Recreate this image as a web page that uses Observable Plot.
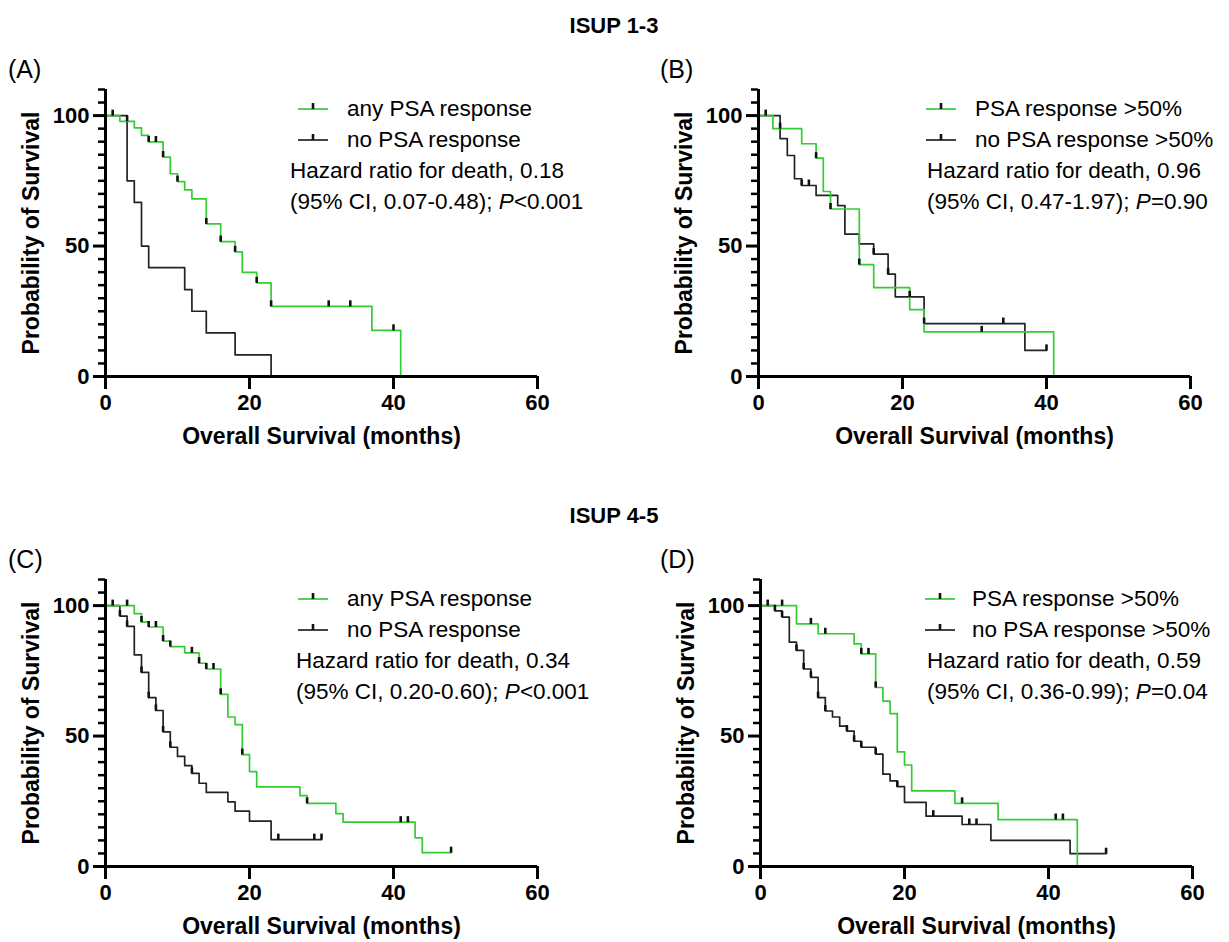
<!DOCTYPE html>
<html><head><meta charset="utf-8">
<script src="https://cdn.jsdelivr.net/npm/d3@7"></script>
<script src="https://cdn.jsdelivr.net/npm/@observablehq/plot@0.6"></script>
<style>
body{margin:0;background:#fff;}
#fig{position:relative;width:1229px;height:942px;overflow:hidden;font-family:"Liberation Sans",Arial,sans-serif;}
#fig svg{position:absolute;overflow:visible;}
</style></head><body><div id="fig"></div>
<script>
// ---------- data (months, survival %) ----------
const titles = ["ISUP 1-3", "ISUP 4-5"];
const panelLabels = ["(A)", "(B)", "(C)", "(D)"];
const xTicks = [0, 20, 40, 60];
const yTicks = [0, 50, 100];

// Panel A (ISUP 1-3, any PSA response)
const aRespT = [0, 2, 4, 5, 6, 8, 9, 10, 11, 12, 14, 16, 18, 19, 21, 23, 37, 41];
const aRespS = [100, 97.8, 95.3, 92.4, 89.9, 84.1, 77.7, 74.7, 71.5, 68.1, 58.5, 51.7, 47.8, 39.9, 35.9, 26.9, 17.7, 0];
const aRespC = [1, 3, 6, 7, 8, 10, 14, 16, 18, 21, 23, 31, 34, 40];
const aNoT = [0, 3, 4, 5, 6, 11, 12, 14, 18, 23];
const aNoS = [100, 75, 66.7, 50, 41.7, 33.3, 25, 16.7, 8.3, 0];
const aNoC = [];

// Panel B (ISUP 1-3, PSA response >50%)
const bRespT = [0, 2, 6, 8, 9, 10, 14, 16, 21, 23, 41];
const bRespS = [100, 95, 89.2, 83.7, 70.9, 64.2, 42.9, 34.1, 25.6, 17.1, 0];
const bRespC = [1, 3, 8, 10, 14, 31];
const bNoT = [0, 3, 4, 5, 6, 8, 11, 12, 14, 16, 18, 19, 23, 37, 40];
const bNoS = [100, 91.2, 84.7, 75.8, 73.2, 69.4, 65.5, 54.6, 50.8, 46.9, 39.2, 30.5, 20.3, 10, 10];
const bNoC = [6, 7, 16, 18, 21, 23, 34, 40];

// Panel C (ISUP 4-5, any PSA response)
const cRespT = [0, 4, 5, 6, 8, 9, 11, 13, 14, 16, 17, 18, 19, 20, 21, 27, 28, 32, 33, 43, 44, 48];
const cRespS = [100, 96.9, 93.7, 91.8, 86.4, 84.3, 81.9, 77.9, 75.7, 66.0, 57.3, 54.4, 42.9, 36.4, 30.5, 27.2, 24.2, 20.3, 17.0, 11.0, 5.3, 5.3];
const cRespC = [1, 3, 5, 6, 7, 8, 9, 12, 13, 14, 15, 16, 19, 28, 41, 42, 48];
const cNoT = [0, 2, 3, 4, 5, 6, 7, 8, 9, 10, 11, 12, 13, 14, 17, 18, 20, 23, 30];
const cNoS = [100, 96, 92, 81.1, 74.4, 64.7, 59.8, 51.6, 45.7, 42.2, 38.7, 35.7, 31.9, 28.4, 24.8, 21.2, 17.4, 10.3, 10.3];
const cNoC = [2, 3, 5, 6, 7, 8, 9, 12, 24, 29, 30];

// Panel D (ISUP 4-5, PSA response >50%)
const dRespT = [0, 5, 8, 13, 14, 16, 17, 18, 19, 20, 21, 27, 33, 44];
const dRespS = [100, 93.0, 89.2, 85.3, 81.5, 68.6, 63.4, 58.6, 43.9, 38.9, 29.0, 24.2, 18.0, 0];
const dRespC = [1, 3, 7, 9, 14, 15, 16, 28, 41, 42];
const dNoT = [0, 2, 3, 4, 5, 6, 7, 8, 9, 10, 11, 12, 13, 14, 16, 17, 18, 19, 20, 23, 28, 32, 43, 48];
const dNoS = [100, 98, 95.6, 86, 82.8, 75.7, 72.5, 64.7, 59.6, 57.3, 53.8, 51.9, 48.0, 45.7, 43.1, 35.4, 32.8, 30.6, 24.6, 19.3, 16.1, 10, 4.9, 4.9];
const dNoC = [2, 3, 5, 6, 7, 8, 9, 12, 13, 14, 16, 19, 24, 29, 30, 48];

const legendAny = ["any PSA response", "no PSA response"];
const legend50 = ["PSA response >50%", "no PSA response >50%"];
const hrText = ["Hazard ratio for death, 0.18", "Hazard ratio for death, 0.96", "Hazard ratio for death, 0.34", "Hazard ratio for death, 0.59"];
const ciText = ["(95% CI, 0.07-0.48); ", "(95% CI, 0.47-1.97); ", "(95% CI, 0.20-0.60); ", "(95% CI, 0.36-0.99); "];
const pText = ["<0.001", "=0.90", "<0.001", "=0.04"];

// ---------- styling ----------
const GREEN = "#33cc33", BLACK = "#222";
const FONT = "'Liberation Sans', Arial, sans-serif";
const W = 614, H = 470;
const fig = document.getElementById("fig");

const censorSymbol = {draw(ctx) { ctx.moveTo(0, 0); ctx.lineTo(0, -6); }};

function steps(T, S) { return T.map((t, i) => ({t, s: S[i]})); }
function censors(T, S, C) {
  return C.map(c => { let s = S[0]; for (let i = 0; i < T.length; i++) if (T[i] <= c) s = S[i]; return {t: c, s}; });
}

const panels = [
  {ox: 0, oy: 0, g: [aRespT, aRespS, aRespC], k: [aNoT, aNoS, aNoC], leg: legendAny, sw: 298, tx: 347, hx: 290},
  {ox: 653, oy: 0, g: [bRespT, bRespS, bRespC], k: [bNoT, bNoS, bNoC], leg: legend50, sw: 926, tx: 975, hx: 927},
  {ox: 0, oy: 490, g: [cRespT, cRespS, cRespC], k: [cNoT, cNoS, cNoC], leg: legendAny, sw: 298, tx: 347, hx: 296},
  {ox: 655, oy: 490, g: [dRespT, dRespS, dRespC], k: [dNoT, dNoS, dNoC], leg: legend50, sw: 925, tx: 972, hx: 927}
];

const minor = d3.range(0, 111, 5).filter(v => !yTicks.includes(v));

panels.forEach((p, i) => {
  const chart = Plot.plot({
    width: W, height: H,
    marginLeft: 105, marginRight: 77, marginTop: 89, marginBottom: 94,
    x: {domain: [0, 60]},
    y: {domain: [0, 110]},
    style: {fontFamily: FONT, fontSize: "22px", color: "#000", background: "transparent", overflow: "visible"},
    marks: [
      Plot.axisY({ticks: minor, tickSize: 7, tickFormat: () => "", strokeWidth: 2.5, label: null}),
      Plot.axisY({ticks: yTicks, tickSize: 12, tickPadding: 4, fontSize: 22, fontWeight: "bold", strokeWidth: 3, label: null}),
      Plot.axisX({ticks: xTicks, tickSize: 13, tickPadding: 5, fontSize: 22, fontWeight: "bold", strokeWidth: 3, label: null}),
      Plot.line(steps(p.k[0], p.k[1]), {x: "t", y: "s", curve: "step-after", stroke: BLACK, strokeWidth: 1.7}),
      Plot.line(steps(p.g[0], p.g[1]), {x: "t", y: "s", curve: "step-after", stroke: GREEN, strokeWidth: 1.7}),
      Plot.dot(censors(p.k[0], p.k[1], p.k[2]), {x: "t", y: "s", symbol: censorSymbol, fill: "none", stroke: "#111", strokeWidth: 2.6}),
      Plot.dot(censors(p.g[0], p.g[1], p.g[2]), {x: "t", y: "s", symbol: censorSymbol, fill: "none", stroke: "#111", strokeWidth: 2.6}),
      Plot.ruleX([0], {y1: 0, y2: 110, strokeWidth: 3}),
      Plot.ruleY([0], {x1: 0, x2: 60, strokeWidth: 3}),
      Plot.text(["Probability of Survival"], {frameAnchor: "left", rotate: -90, dx: -74, textAnchor: "middle", lineAnchor: "middle", fontSize: 23, fontWeight: "bold"}),
      Plot.text(["Overall Survival (months)"], {frameAnchor: "bottom", dy: 60, textAnchor: "middle", lineAnchor: "middle", fontSize: 23, fontWeight: "bold"})
    ]
  });
  chart.style.left = p.ox + "px";
  chart.style.top = p.oy + "px";
  fig.appendChild(chart);
});

// ---------- overlay: titles, panel labels, legends, annotations ----------
const ov = d3.select(fig).append("svg").attr("width", 1229).attr("height", 942)
  .style("left", "0px").style("top", "0px").attr("font-family", FONT);

titles.forEach((t, i) => ov.append("text").attr("x", 614).attr("y", 33 + i * 490)
  .attr("text-anchor", "middle").attr("font-size", 22).attr("font-weight", "bold").text(t));

panelLabels.forEach((t, i) => ov.append("text").attr("x", i % 2 ? 660 : 8).attr("y", 78 + Math.floor(i / 2) * 490)
  .attr("font-size", 25).text(t));

panels.forEach((p, i) => {
  const oy = p.oy;
  [GREEN, BLACK].forEach((c, j) => {
    const y = 109 + j * 31 + oy;
    ov.append("line").attr("x1", p.sw).attr("x2", p.sw + 30).attr("y1", y).attr("y2", y).attr("stroke", c).attr("stroke-width", 1.7);
    ov.append("line").attr("x1", p.sw + 15).attr("x2", p.sw + 15).attr("y1", y).attr("y2", y - 6).attr("stroke", "#111").attr("stroke-width", 2.6);
    ov.append("text").attr("x", p.tx).attr("y", 116 + j * 31 + oy).attr("font-size", 22.5).text(p.leg[j]);
  });
  ov.append("text").attr("x", p.hx).attr("y", 178 + oy).attr("font-size", 22.5).text(hrText[i]);
  const ci = ov.append("text").attr("x", p.hx).attr("y", 209 + oy).attr("font-size", 22.5).attr("xml:space", "preserve");
  ci.append("tspan").text(ciText[i]);
  ci.append("tspan").attr("font-style", "italic").text("P");
  ci.append("tspan").text(pText[i]);
});
</script></body></html>
